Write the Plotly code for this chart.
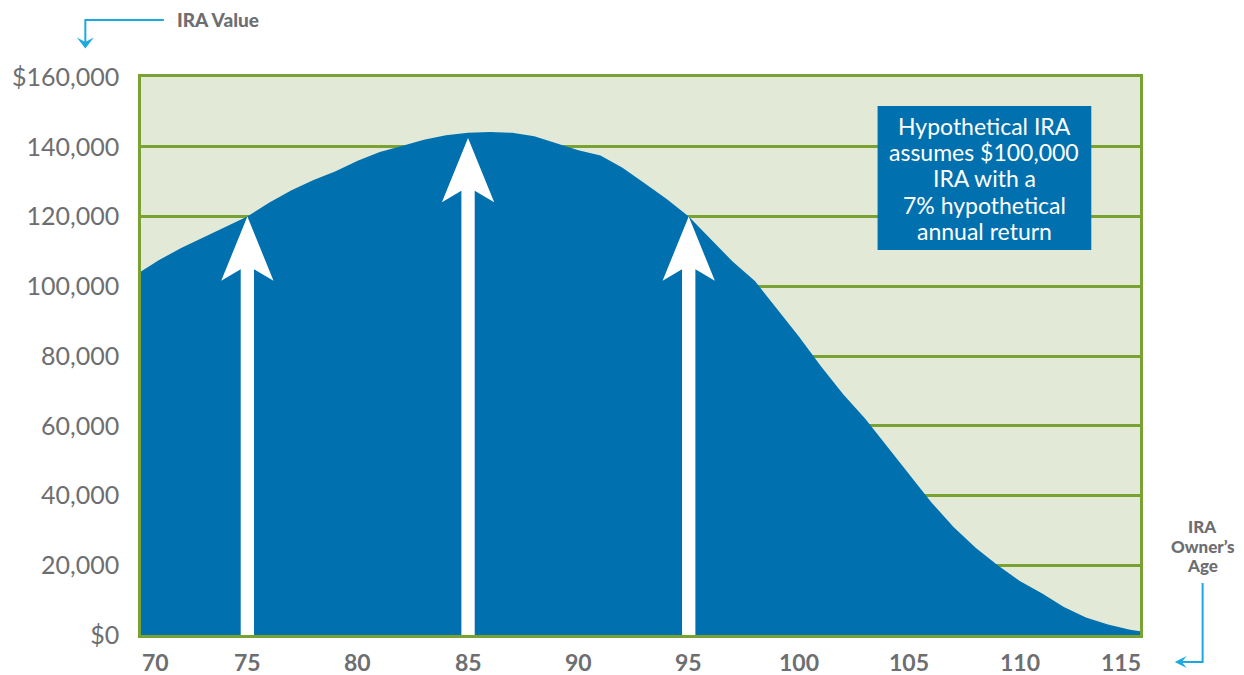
import plotly.graph_objects as go

# ---------------- data ----------------
ages = list(range(70, 117))
ira_values = [103500, 107500, 111000, 114000, 117000, 120000, 124000, 127500, 130500, 133000,
              136000, 138500, 140200, 142000, 143300, 144000, 144200, 144000, 143000, 141000,
              139000, 137500, 134000, 129500, 125000, 120000, 113500, 107000, 101500, 93500,
              85500, 77000, 69000, 62000, 54000, 46000, 38000, 31000, 25000, 20000,
              15500, 12000, 8000, 5000, 3000, 1500, 500]

x_tick_vals = [70, 75, 80, 85, 90, 95, 100, 105, 110, 115]
x_tick_text = ["70", "75", "80", "85", "90", "95", "100", "105", "110", "115"]
y_tick_vals = [0, 20000, 40000, 60000, 80000, 100000, 120000, 140000, 160000]
y_tick_text = ["$0", "20,000", "40,000", "60,000", "80,000", "100,000", "120,000", "140,000", "$160,000"]

arrow_ages = [75, 85, 95]
arrow_tops = [120000, 142500, 120000]

note_lines = ["Hypothetical IRA", "assumes $100,000", "IRA with a", "7% hypothetical", "annual return"]

# ---------------- geometry ----------------
W, H = 1244, 675
P_LEFT, P_RIGHT, P_TOP, P_BOTTOM = 135, 1140, 77, 635    # plot area in page pixels
ML, MR, MT, MB = P_LEFT, W - P_RIGHT, P_TOP, H - P_BOTTOM
PW, PH = P_RIGHT - P_LEFT, P_BOTTOM - P_TOP
X_RANGE = [70.18, 115.45]
Y_RANGE = [0, 160000]

BLUE = "#0071ae"
GREEN = "#7aa232"
BG = "#e2e9d6"
GRAY = "#6d6e71"
LIGHTBLUE = "#1ba9e1"
FONT = "Lato"

ppx = PW / (X_RANGE[1] - X_RANGE[0])   # pixels per year
ppy = PH / (Y_RANGE[1] - Y_RANGE[0])   # pixels per dollar


def px(xp):
    return (xp - P_LEFT) / PW


def py(yp):
    return (P_BOTTOM - yp) / PH


def xdata_to_paper(v):
    return (v - X_RANGE[0]) / (X_RANGE[1] - X_RANGE[0])


fig = go.Figure()
fig.add_trace(go.Scatter(
    x=ages, y=ira_values, mode="lines", fill="tozeroy",
    fillcolor=BLUE, line=dict(width=0, color=BLUE), hoverinfo="skip",
))

shapes = []
# white arrows
for a, top in zip(arrow_ages, arrow_tops):
    hw = 26.3 / ppx
    nw = 6.7 / ppx
    hh = 64.3 / ppy
    nh = 52.7 / ppy
    path = (f"M {a},{top} L {a+hw},{top-hh} L {a+nw},{top-nh} L {a+nw},0 "
            f"L {a-nw},0 L {a-nw},{top-nh} L {a-hw},{top-hh} Z")
    shapes.append(dict(type="path", path=path, xref="x", yref="y",
                       fillcolor="white", line=dict(width=0), layer="above"))

# note box
shapes.append(dict(type="rect", xref="paper", yref="paper",
                   x0=px(876), x1=px(1091), y0=py(250), y1=py(106),
                   fillcolor=BLUE, line=dict(width=0), layer="above"))

# connector: IRA Value
shapes.append(dict(type="path", xref="paper", yref="paper",
                   path=f"M {px(158)},{py(20)} L {px(79)},{py(20)} L {px(79)},{py(42)}",
                   line=dict(color=LIGHTBLUE, width=2)))
shapes.append(dict(type="path", xref="paper", yref="paper",
                   path=(f"M {px(79)},{py(48.5)} L {px(70.5)},{py(37.5)} L {px(79)},{py(42)} "
                         f"L {px(87.5)},{py(37.5)} Z"),
                   fillcolor=LIGHTBLUE, line=dict(width=0)))
# connector: Owner's age
shapes.append(dict(type="path", xref="paper", yref="paper",
                   path=f"M {px(1203)},{py(583)} L {px(1203)},{py(662)} L {px(1181)},{py(662)}",
                   line=dict(color=LIGHTBLUE, width=2)))
shapes.append(dict(type="path", xref="paper", yref="paper",
                   path=(f"M {px(1175)},{py(662)} L {px(1187)},{py(656)} L {px(1182)},{py(662)} "
                         f"L {px(1187)},{py(668)} Z"),
                   fillcolor=LIGHTBLUE, line=dict(width=0)))

annotations = []
# x tick labels (paper-referenced so the edge labels are never hidden)
for i, (v, t) in enumerate(zip(x_tick_vals, x_tick_text)):
    shift = 0
    if i == 0:
        shift = 18
    elif i == len(x_tick_vals) - 1:
        shift = -9
    annotations.append(dict(x=xdata_to_paper(v), y=0, xref="paper", yref="paper", text=t,
                            showarrow=False, xshift=shift, yshift=-27,
                            yanchor="middle", xanchor="center",
                            font=dict(family=FONT, size=23, color=GRAY, weight="bold")))

annotations.append(dict(x=px(212), y=py(19), xref="paper", yref="paper", text="IRA Value",
                        showarrow=False, xanchor="center", yanchor="middle",
                        font=dict(family=FONT, size=19, color=GRAY, weight=900)))
for j, t in enumerate(["IRA", "Owner’s", "Age"]):
    annotations.append(dict(x=px(1203), y=py(526.5 + j * 19.5), xref="paper", yref="paper",
                            text=t, showarrow=False, xanchor="center", yanchor="middle",
                            font=dict(family=FONT, size=17, color=GRAY, weight=900)))
for j, t in enumerate(note_lines):
    annotations.append(dict(x=px(983.5), y=py(126 + j * 26.2), xref="paper", yref="paper",
                            text=t, showarrow=False, xanchor="center", yanchor="middle",
                            font=dict(family=FONT, size=23, color="white")))

fig.update_layout(
    width=W, height=H,
    margin=dict(l=ML, r=MR, t=MT, b=MB),
    paper_bgcolor="white", plot_bgcolor=BG,
    showlegend=False,
    shapes=shapes, annotations=annotations,
    xaxis=dict(range=X_RANGE, showgrid=False, zeroline=False, showticklabels=False,
               showline=True, mirror=True, linecolor=GREEN, linewidth=2.5, fixedrange=True),
    yaxis=dict(range=Y_RANGE, tickvals=y_tick_vals, ticktext=y_tick_text,
               showgrid=True, gridcolor=GREEN, gridwidth=2.5, zeroline=False,
               showline=True, mirror=True, linecolor=GREEN, linewidth=2.5,
               ticks="", ticklabelstandoff=14,
               tickfont=dict(family=FONT, size=25, color=GRAY), fixedrange=True),
)

fig.write_html(
    "out.html",
    config={"displayModeBar": False},
    post_script="document.body.style.margin='0';document.body.style.overflow='hidden';",
)
